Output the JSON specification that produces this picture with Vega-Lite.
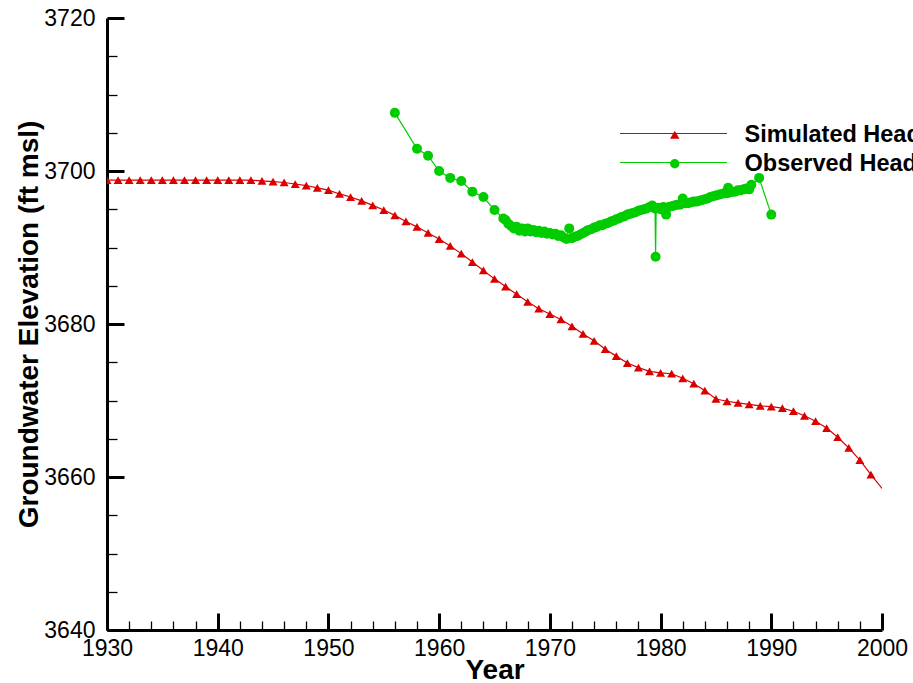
{
  "$schema": "https://vega.github.io/schema/vega-lite/v6.json",
  "width": 775,
  "height": 612,
  "autosize": {"type": "none"},
  "padding": {"left": 107, "top": 18, "right": 31, "bottom": 53},
  "background": "white",
  "config": {
    "view": {"stroke": null},
    "font": "Liberation Sans",
    "axis": {
      "grid": false,
      "domainColor": "black",
      "domainWidth": 3,
      "tickColor": "black",
      "labelColor": "black",
      "titleColor": "black",
      "labelFont": "Liberation Sans",
      "titleFont": "Liberation Sans",
      "labelFontSize": 23,
      "titleFontSize": 28,
      "titleFontWeight": "bold",
      "labelOverlap": false,
      "labelFlush": false,
      "labelBound": false
    }
  },
  "datasets": {
    "heads": [
      {"series": "Simulated Head", "year": 1930, "value": 3698.8},
      {"series": "Simulated Head", "year": 1931, "value": 3698.8},
      {"series": "Simulated Head", "year": 1932, "value": 3698.8},
      {"series": "Simulated Head", "year": 1933, "value": 3698.8},
      {"series": "Simulated Head", "year": 1934, "value": 3698.8},
      {"series": "Simulated Head", "year": 1935, "value": 3698.8},
      {"series": "Simulated Head", "year": 1936, "value": 3698.8},
      {"series": "Simulated Head", "year": 1937, "value": 3698.8},
      {"series": "Simulated Head", "year": 1938, "value": 3698.8},
      {"series": "Simulated Head", "year": 1939, "value": 3698.8},
      {"series": "Simulated Head", "year": 1940, "value": 3698.8},
      {"series": "Simulated Head", "year": 1941, "value": 3698.8},
      {"series": "Simulated Head", "year": 1942, "value": 3698.8},
      {"series": "Simulated Head", "year": 1943, "value": 3698.8},
      {"series": "Simulated Head", "year": 1944, "value": 3698.7},
      {"series": "Simulated Head", "year": 1945, "value": 3698.6},
      {"series": "Simulated Head", "year": 1946, "value": 3698.5},
      {"series": "Simulated Head", "year": 1947, "value": 3698.3},
      {"series": "Simulated Head", "year": 1948, "value": 3698.1},
      {"series": "Simulated Head", "year": 1949, "value": 3697.8},
      {"series": "Simulated Head", "year": 1950, "value": 3697.5},
      {"series": "Simulated Head", "year": 1951, "value": 3697.0},
      {"series": "Simulated Head", "year": 1952, "value": 3696.6},
      {"series": "Simulated Head", "year": 1953, "value": 3696.1},
      {"series": "Simulated Head", "year": 1954, "value": 3695.5},
      {"series": "Simulated Head", "year": 1955, "value": 3694.9},
      {"series": "Simulated Head", "year": 1956, "value": 3694.2},
      {"series": "Simulated Head", "year": 1957, "value": 3693.4},
      {"series": "Simulated Head", "year": 1958, "value": 3692.7},
      {"series": "Simulated Head", "year": 1959, "value": 3691.9},
      {"series": "Simulated Head", "year": 1960, "value": 3691.1},
      {"series": "Simulated Head", "year": 1961, "value": 3690.2},
      {"series": "Simulated Head", "year": 1962, "value": 3689.2},
      {"series": "Simulated Head", "year": 1963, "value": 3688.1},
      {"series": "Simulated Head", "year": 1964, "value": 3687.0},
      {"series": "Simulated Head", "year": 1965, "value": 3685.9},
      {"series": "Simulated Head", "year": 1966, "value": 3684.9},
      {"series": "Simulated Head", "year": 1967, "value": 3683.9},
      {"series": "Simulated Head", "year": 1968, "value": 3682.9},
      {"series": "Simulated Head", "year": 1969, "value": 3682.0},
      {"series": "Simulated Head", "year": 1970, "value": 3681.3},
      {"series": "Simulated Head", "year": 1971, "value": 3680.6},
      {"series": "Simulated Head", "year": 1972, "value": 3679.7},
      {"series": "Simulated Head", "year": 1973, "value": 3678.7},
      {"series": "Simulated Head", "year": 1974, "value": 3677.8},
      {"series": "Simulated Head", "year": 1975, "value": 3676.7},
      {"series": "Simulated Head", "year": 1976, "value": 3675.8},
      {"series": "Simulated Head", "year": 1977, "value": 3674.9},
      {"series": "Simulated Head", "year": 1978, "value": 3674.3},
      {"series": "Simulated Head", "year": 1979, "value": 3673.8},
      {"series": "Simulated Head", "year": 1980, "value": 3673.6},
      {"series": "Simulated Head", "year": 1981, "value": 3673.5},
      {"series": "Simulated Head", "year": 1982, "value": 3672.9},
      {"series": "Simulated Head", "year": 1983, "value": 3672.2},
      {"series": "Simulated Head", "year": 1984, "value": 3671.3},
      {"series": "Simulated Head", "year": 1985, "value": 3670.2},
      {"series": "Simulated Head", "year": 1986, "value": 3669.9},
      {"series": "Simulated Head", "year": 1987, "value": 3669.7},
      {"series": "Simulated Head", "year": 1988, "value": 3669.5},
      {"series": "Simulated Head", "year": 1989, "value": 3669.3},
      {"series": "Simulated Head", "year": 1990, "value": 3669.2},
      {"series": "Simulated Head", "year": 1991, "value": 3669.0},
      {"series": "Simulated Head", "year": 1992, "value": 3668.6},
      {"series": "Simulated Head", "year": 1993, "value": 3668.0},
      {"series": "Simulated Head", "year": 1994, "value": 3667.3},
      {"series": "Simulated Head", "year": 1995, "value": 3666.4},
      {"series": "Simulated Head", "year": 1996, "value": 3665.2},
      {"series": "Simulated Head", "year": 1997, "value": 3663.8},
      {"series": "Simulated Head", "year": 1998, "value": 3662.2},
      {"series": "Simulated Head", "year": 1999, "value": 3660.3},
      {"series": "Simulated Head", "year": 2000, "value": 3658.5},
      {"series": "Observed Head", "year": 1956.0, "value": 3707.6},
      {"series": "Observed Head", "year": 1958.0, "value": 3702.9},
      {"series": "Observed Head", "year": 1959.0, "value": 3702.0},
      {"series": "Observed Head", "year": 1960.0, "value": 3700.0},
      {"series": "Observed Head", "year": 1961.0, "value": 3699.1},
      {"series": "Observed Head", "year": 1962.0, "value": 3698.7},
      {"series": "Observed Head", "year": 1963.0, "value": 3697.3},
      {"series": "Observed Head", "year": 1964.0, "value": 3696.6},
      {"series": "Observed Head", "year": 1965.0, "value": 3694.9},
      {"series": "Observed Head", "year": 1965.8, "value": 3693.8},
      {"series": "Observed Head", "year": 1966.0, "value": 3693.6},
      {"series": "Observed Head", "year": 1966.25, "value": 3693.1},
      {"series": "Observed Head", "year": 1966.5, "value": 3692.8},
      {"series": "Observed Head", "year": 1966.75, "value": 3692.5},
      {"series": "Observed Head", "year": 1967.0, "value": 3692.7},
      {"series": "Observed Head", "year": 1967.25, "value": 3692.2},
      {"series": "Observed Head", "year": 1967.5, "value": 3692.5},
      {"series": "Observed Head", "year": 1967.75, "value": 3692.1},
      {"series": "Observed Head", "year": 1968.0, "value": 3692.5},
      {"series": "Observed Head", "year": 1968.25, "value": 3692.1},
      {"series": "Observed Head", "year": 1968.5, "value": 3692.3},
      {"series": "Observed Head", "year": 1968.75, "value": 3692.0},
      {"series": "Observed Head", "year": 1969.0, "value": 3692.2},
      {"series": "Observed Head", "year": 1969.25, "value": 3691.9},
      {"series": "Observed Head", "year": 1969.5, "value": 3692.1},
      {"series": "Observed Head", "year": 1969.75, "value": 3691.8},
      {"series": "Observed Head", "year": 1970.0, "value": 3691.9},
      {"series": "Observed Head", "year": 1970.25, "value": 3691.7},
      {"series": "Observed Head", "year": 1970.5, "value": 3691.8},
      {"series": "Observed Head", "year": 1970.75, "value": 3691.5},
      {"series": "Observed Head", "year": 1971.0, "value": 3691.6},
      {"series": "Observed Head", "year": 1971.25, "value": 3691.3},
      {"series": "Observed Head", "year": 1971.5, "value": 3691.1},
      {"series": "Observed Head", "year": 1971.75, "value": 3692.5},
      {"series": "Observed Head", "year": 1972.0, "value": 3691.2},
      {"series": "Observed Head", "year": 1972.25, "value": 3691.4},
      {"series": "Observed Head", "year": 1972.5, "value": 3691.5},
      {"series": "Observed Head", "year": 1972.75, "value": 3691.7},
      {"series": "Observed Head", "year": 1973.0, "value": 3691.9},
      {"series": "Observed Head", "year": 1973.25, "value": 3692.1},
      {"series": "Observed Head", "year": 1973.5, "value": 3692.3},
      {"series": "Observed Head", "year": 1973.75, "value": 3692.4},
      {"series": "Observed Head", "year": 1974.0, "value": 3692.6},
      {"series": "Observed Head", "year": 1974.25, "value": 3692.7},
      {"series": "Observed Head", "year": 1974.5, "value": 3692.9},
      {"series": "Observed Head", "year": 1974.75, "value": 3692.9},
      {"series": "Observed Head", "year": 1975.0, "value": 3693.1},
      {"series": "Observed Head", "year": 1975.25, "value": 3693.2},
      {"series": "Observed Head", "year": 1975.5, "value": 3693.4},
      {"series": "Observed Head", "year": 1975.75, "value": 3693.5},
      {"series": "Observed Head", "year": 1976.0, "value": 3693.7},
      {"series": "Observed Head", "year": 1976.25, "value": 3693.8},
      {"series": "Observed Head", "year": 1976.5, "value": 3694.0},
      {"series": "Observed Head", "year": 1976.75, "value": 3694.1},
      {"series": "Observed Head", "year": 1977.0, "value": 3694.3},
      {"series": "Observed Head", "year": 1977.25, "value": 3694.4},
      {"series": "Observed Head", "year": 1977.5, "value": 3694.5},
      {"series": "Observed Head", "year": 1977.75, "value": 3694.6},
      {"series": "Observed Head", "year": 1978.0, "value": 3694.8},
      {"series": "Observed Head", "year": 1978.25, "value": 3694.9},
      {"series": "Observed Head", "year": 1978.5, "value": 3695.0},
      {"series": "Observed Head", "year": 1978.75, "value": 3695.1},
      {"series": "Observed Head", "year": 1979.0, "value": 3695.3},
      {"series": "Observed Head", "year": 1979.25, "value": 3695.5},
      {"series": "Observed Head", "year": 1979.5, "value": 3695.1},
      {"series": "Observed Head", "year": 1979.55, "value": 3688.8},
      {"series": "Observed Head", "year": 1979.6, "value": 3695.1},
      {"series": "Observed Head", "year": 1979.8, "value": 3695.2},
      {"series": "Observed Head", "year": 1980.0, "value": 3695.0},
      {"series": "Observed Head", "year": 1980.25, "value": 3695.3},
      {"series": "Observed Head", "year": 1980.5, "value": 3694.3},
      {"series": "Observed Head", "year": 1980.75, "value": 3695.3},
      {"series": "Observed Head", "year": 1981.0, "value": 3695.4},
      {"series": "Observed Head", "year": 1981.25, "value": 3695.5},
      {"series": "Observed Head", "year": 1981.5, "value": 3695.6},
      {"series": "Observed Head", "year": 1981.75, "value": 3695.6},
      {"series": "Observed Head", "year": 1982.0, "value": 3696.4},
      {"series": "Observed Head", "year": 1982.25, "value": 3695.8},
      {"series": "Observed Head", "year": 1982.5, "value": 3695.8},
      {"series": "Observed Head", "year": 1982.75, "value": 3695.9},
      {"series": "Observed Head", "year": 1983.0, "value": 3696.0},
      {"series": "Observed Head", "year": 1983.25, "value": 3696.0},
      {"series": "Observed Head", "year": 1983.5, "value": 3696.1},
      {"series": "Observed Head", "year": 1983.75, "value": 3696.2},
      {"series": "Observed Head", "year": 1984.0, "value": 3696.3},
      {"series": "Observed Head", "year": 1984.25, "value": 3696.4},
      {"series": "Observed Head", "year": 1984.5, "value": 3696.6},
      {"series": "Observed Head", "year": 1984.75, "value": 3696.7},
      {"series": "Observed Head", "year": 1985.0, "value": 3696.8},
      {"series": "Observed Head", "year": 1985.25, "value": 3696.9},
      {"series": "Observed Head", "year": 1985.5, "value": 3697.0},
      {"series": "Observed Head", "year": 1985.75, "value": 3697.1},
      {"series": "Observed Head", "year": 1986.0, "value": 3697.1},
      {"series": "Observed Head", "year": 1986.1, "value": 3697.8},
      {"series": "Observed Head", "year": 1986.25, "value": 3697.2},
      {"series": "Observed Head", "year": 1986.5, "value": 3697.3},
      {"series": "Observed Head", "year": 1986.75, "value": 3697.3},
      {"series": "Observed Head", "year": 1987.0, "value": 3697.5},
      {"series": "Observed Head", "year": 1987.25, "value": 3697.5},
      {"series": "Observed Head", "year": 1987.5, "value": 3697.6},
      {"series": "Observed Head", "year": 1987.75, "value": 3697.7},
      {"series": "Observed Head", "year": 1988.0, "value": 3697.6},
      {"series": "Observed Head", "year": 1988.2, "value": 3698.2},
      {"series": "Observed Head", "year": 1988.9, "value": 3699.1},
      {"series": "Observed Head", "year": 1990.0, "value": 3694.3}
    ]
  },
  "data": {"name": "heads"},
  "encoding": {
    "x": {
      "field": "year",
      "type": "quantitative",
      "scale": {"domain": [1930, 2000], "nice": false, "zero": false},
      "axis": {
        "title": "Year",
        "values": [1930,1932,1934,1936,1938,1940,1942,1944,1946,1948,1950,1952,1954,1956,1958,1960,1962,1964,1966,1968,1970,1972,1974,1976,1978,1980,1982,1984,1986,1988,1990,1992,1994,1996,1998,2000],
        "format": "d",
        "labelExpr": "datum.value % 10 === 0 ? datum.label : ''",
        "tickSize": {"condition": {"test": "datum.value % 10 === 0", "value": -17}, "value": -9},
        "tickWidth": {"condition": {"test": "datum.value % 10 === 0", "value": 3}, "value": 1.3},
        "labelPadding": 24,
        "titlePadding": -12
      }
    },
    "y": {
      "field": "value",
      "type": "quantitative",
      "scale": {"domain": [3640, 3720], "nice": false, "zero": false},
      "axis": {
        "title": "Groundwater Elevation (ft msl)",
        "values": [3640,3645,3650,3655,3660,3665,3670,3675,3680,3685,3690,3695,3700,3705,3710,3715,3720],
        "format": "d",
        "labelExpr": "datum.value % 20 === 0 ? datum.label : ''",
        "tickSize": {"condition": {"test": "datum.value % 20 === 0", "value": -17}, "value": -10},
        "tickWidth": {"condition": {"test": "datum.value % 20 === 0", "value": 3}, "value": 1.3},
        "labelPadding": 29,
        "titlePadding": 0
      }
    }
  },
  "layer": [
    {
      "mark": {"type": "line", "strokeWidth": 1.2, "clip": true},
      "encoding": {
        "color": {
          "field": "series",
          "type": "nominal",
          "sort": ["Simulated Head", "Observed Head"],
          "scale": {"range": ["#d90000", "#00cc00"]},
          "legend": {
            "title": null,
            "orient": "none",
            "legendX": 512,
            "legendY": 103,
            "padding": 0,
            "symbolType": "stroke",
            "symbolSize": 11449,
            "symbolStrokeWidth": 1.2,
            "clipHeight": 25,
            "labelExpr": "''",
            "labelFont": "Liberation Sans",
            "labelFontSize": 23.5,
            "labelFontWeight": "bold",
            "labelColor": "rgba(0,0,0,0)",
            "labelOffset": 10,
            "labelLimit": 400,
            "rowPadding": 4
          }
        }
      }
    },
    {
      "transform": [{"filter": "datum.series !== 'Simulated Head' || datum.year < 2000"}],
      "mark": {"type": "point", "filled": true, "opacity": 1, "clip": true},
      "encoding": {
        "fill": {
          "field": "series",
          "type": "nominal",
          "scale": {"domain": ["Simulated Head", "Observed Head"], "range": ["#d90000", "#00cc00"]},
          "legend": {
            "title": null,
            "orient": "none",
            "legendX": 556,
            "legendY": 105,
            "padding": 0,
            "symbolSize": 90,
            "symbolFillColor": "#d90000",
            "labelFont": "Liberation Sans",
            "labelFontSize": 23.5,
            "labelFontWeight": "bold",
            "labelColor": "black",
            "labelOffset": 58,
            "labelLimit": 400,
            "rowPadding": 4
          }
        },
        "shape": {
          "field": "series",
          "type": "nominal",
          "scale": {"domain": ["Simulated Head", "Observed Head"], "range": ["triangle-up", "circle"]},
          "legend": {
            "title": null,
            "orient": "none",
            "legendX": 556,
            "legendY": 105,
            "padding": 0,
            "symbolSize": 90,
            "symbolFillColor": "#d90000",
            "labelFont": "Liberation Sans",
            "labelFontSize": 23.5,
            "labelFontWeight": "bold",
            "labelColor": "black",
            "labelOffset": 58,
            "labelLimit": 400,
            "rowPadding": 4
          }
        },
        "size": {
          "field": "series",
          "type": "nominal",
          "scale": {"domain": ["Observed Head", "Simulated Head"], "range": [100, 80]},
          "legend": null
        }
      }
    }
  ]
}
